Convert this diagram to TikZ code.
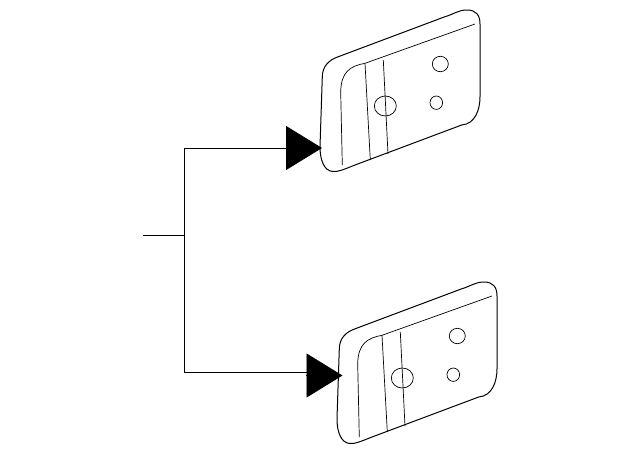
\documentclass[tikz,border=0pt]{standalone}
\usetikzlibrary{arrows.meta}
\tikzset{
  leader/.style={line width=0.9pt},
  pointer/.style={leader,-{Triangle[length=36pt,width=44pt]}},
  outline/.style={line width=1pt,line join=round},
  detail/.style={line width=0.7pt},
  pics/panel/.style={code={
    \draw[outline] (322.3,76.7) .. controls (322.5,66) and (329,60) .. (338.3,56.7)
      -- (445,16.7) .. controls (453,14.5) and (458,10) .. (467,10)
      .. controls (476,10) and (480,15) .. (480,24)
      -- (480,96.7) .. controls (480,110) and (475,124) .. (461.7,125)
      -- (355,165) .. controls (345,169) and (338,172) .. (333,171.5)
      .. controls (324,171) and (320,160) .. (320,146.7)
      -- cycle;
    \draw[detail] (475,24) -- (365,63.3) .. controls (350,66) and (341,72) .. (340.7,92)
      -- (342.3,165);
    \draw[detail] (365,63.3) -- (370.3,160);
    \draw[detail] (383.3,60) -- (388,154);
    \draw[detail] (440.3,64) ellipse (8 and 7.7);
    \draw[detail] (436.3,102.7) ellipse (6.3 and 6.7);
    \draw[detail] (385.3,106) ellipse (11 and 10);
  }}
}
\begin{document}
\begin{tikzpicture}[x=1pt,y=-1pt]
  \useasboundingbox (0,0) rectangle (640,453);
  % parts
  \pic at (0,0) {panel};
  \pic at (17,272) {panel};
  % leader
  \coordinate (stub) at (143,235.5);
  \coordinate (junction) at (184,235.5);
  \coordinate (uppertip) at (322,148);
  \coordinate (lowerstem) at (307,372.7);
  \coordinate (lowerback) at (306,375.5);
  \coordinate (lowertip) at (342.5,375.5);
  \draw[leader] (stub) -- (junction);
  \draw[pointer] (junction) |- (uppertip);
  \draw[leader] (junction) |- (lowerstem);
  \draw[pointer] (lowerback) -- (lowertip);
\end{tikzpicture}
\end{document}
